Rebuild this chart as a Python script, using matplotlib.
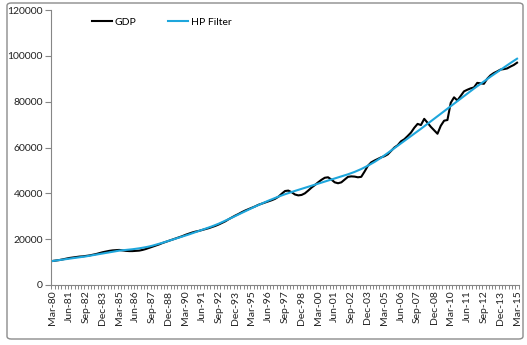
import matplotlib
matplotlib.use("Agg")
import matplotlib.pyplot as plt
from matplotlib.patches import FancyBboxPatch
import pandas as pd

# Quarterly categories Mar-80 .. Mar-15
quarters = pd.period_range("1980Q1", "2015Q1", freq="Q")
categories = [q.to_timestamp(how="end").strftime("%b-%y") for q in quarters]

gdp = [
    10500, 10700, 10900, 11200, 11500, 11800, 12000, 12200, 12400, 12500,
    12700, 12900, 13200, 13500, 13900, 14300, 14600, 14900, 15100, 15200,
    15300, 15100, 14900, 14800, 14800, 14900, 15000, 15300, 15700, 16200,
    16700, 17200, 17700, 18300, 18800, 19300, 19800, 20300, 20800, 21300,
    21900, 22400, 22900, 23300, 23600, 24000, 24400, 24800, 25300, 25800,
    26400, 27100, 27800, 28700, 29500, 30300, 31000, 31800, 32500, 33100,
    33700, 34300, 35000, 35500, 36000, 36500, 37000, 37600, 38500, 39800,
    41000, 41200, 40500, 39500, 39100, 39300, 40000, 41200, 42500, 43600,
    44800, 45900, 46800, 47000, 46000, 44800, 44400, 44800, 46000, 47200,
    47400, 47300, 47000, 47200, 49500, 52000, 53500, 54300, 55000, 55700,
    56200, 57000, 58500, 60000, 61000, 62700, 63600, 65000, 66500, 68600,
    70300, 69800, 72500, 70800, 69000, 67500, 66000, 69500, 71700, 72000,
    79500, 81900, 80500, 82500, 84500, 85200, 85800, 86200, 88200, 88000,
    87800, 90000, 91500, 92500, 93200, 94000, 94200, 94500, 95300, 96000,
    97000,
]

hp_filter = [
    10500, 10700, 10900, 11100, 11300, 11500, 11700, 11900, 12100, 12300,
    12500, 12750, 13000, 13250, 13500, 13750, 14000, 14250, 14500, 14750,
    15000, 15150, 15300, 15450, 15600, 15800, 16000, 16250, 16500, 16800,
    17150, 17550, 17950, 18400, 18850, 19300, 19750, 20200, 20650, 21100,
    21600, 22050, 22550, 23000, 23500, 24000, 24500, 25050, 25600, 26150,
    26750, 27400, 28050, 28700, 29400, 30100, 30800, 31500, 32200, 32900,
    33600, 34250, 34900, 35550, 36200, 36800, 37400, 38000, 38550, 39100,
    39600, 40100, 40600, 41050, 41500, 41950, 42400, 42850, 43300, 43750,
    44200, 44650, 45100, 45550, 46000, 46450, 46900, 47350, 47800, 48300,
    48800, 49350, 49950, 50600, 51300, 52050, 52850, 53700, 54600, 55550,
    56550, 57600, 58650, 59700, 60750, 61800, 62850, 63900, 64950, 66000,
    67050, 68150, 69250, 70350, 71450, 72550, 73650, 74750, 75850, 76950,
    78050, 79150, 80250, 81350, 82450, 83550, 84650, 85700, 86750, 87800,
    88850, 89900, 90900, 91900, 92900, 93900, 94900, 95900, 96850, 97800,
    98750,
]

y_ticks = [0, 20000, 40000, 60000, 80000, 100000, 120000]
label_step = 5

W, H = 527, 345
fig = plt.figure(figsize=(W / 100, H / 100), dpi=100)
fig.patch.set_facecolor("white")

# chart border
border = FancyBboxPatch((7 / W, (H - 339) / H), (523 - 7) / W, (339 - 3) / H,
                        boxstyle="round,pad=0,rounding_size=0.008",
                        transform=fig.transFigure, fill=False,
                        edgecolor="#8c8c8c", linewidth=1.0)
fig.patches.append(border)

left, right, top, bottom = 51.3, 518.7, 10, 285
ax = fig.add_axes([left / W, (H - bottom) / H, (right - left) / W, (bottom - top) / H])

font = "Lato"
n = len(categories)
x = list(range(n))
ax.plot(x, gdp, color="black", linewidth=1.5, label="GDP", zorder=2)
ax.plot(x, hp_filter, color="#1ea6dc", linewidth=1.5, label="HP Filter", zorder=3)

ax.set_xlim(-0.5, n - 0.5)
ax.set_ylim(0, 120000)
ax.set_yticks(y_ticks)
ax.set_yticklabels([str(v) for v in y_ticks], fontsize=7.5, family=font, color="#222222")

ax.set_xticks([i - 0.5 for i in range(n + 1)], minor=True)
ax.set_xticks(x[::label_step])
ax.set_xticklabels(categories[::label_step], rotation=90, fontsize=7.5,
                   family=font, color="#222222")
ax.tick_params(axis="x", which="major", length=0, pad=4)
ax.tick_params(axis="x", which="minor", length=3, color="#868686", width=0.7)
ax.tick_params(axis="y", which="major", length=4, color="#868686", width=0.8, pad=2)

for s in ("top", "right"):
    ax.spines[s].set_visible(False)
for s in ("left", "bottom"):
    ax.spines[s].set_color("#868686")
    ax.spines[s].set_linewidth(0.8)

leg = fig.legend(*ax.get_legend_handles_labels(),
                 loc="center left", bbox_to_anchor=(92 / W, 1 - 22 / H),
                 ncol=2, frameon=False, prop={"family": font, "size": 7.5},
                 handlelength=1.9, handletextpad=0.3, columnspacing=3.0,
                 borderpad=0, borderaxespad=0)

fig.savefig("out.png", dpi=100, facecolor="white")
